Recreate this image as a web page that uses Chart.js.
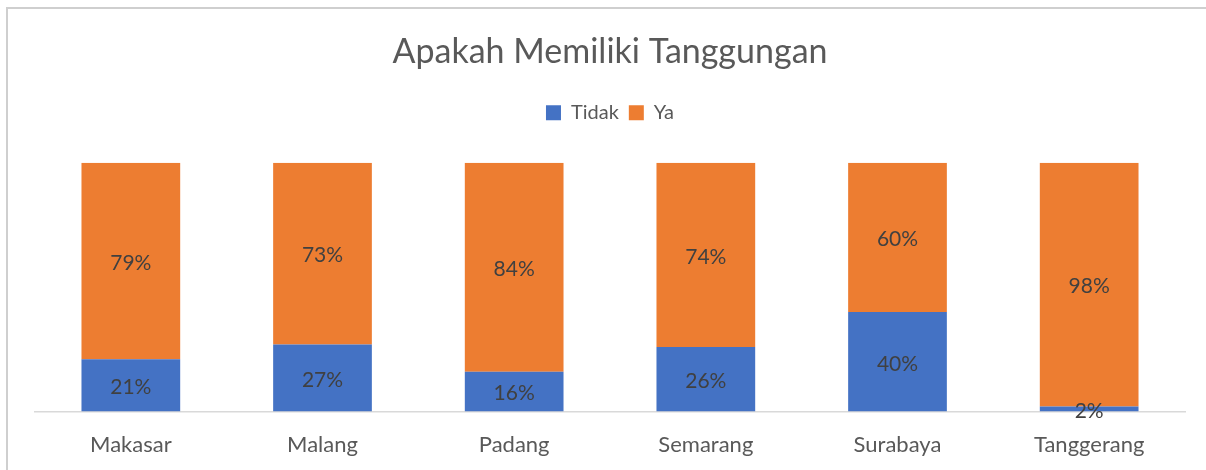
<!DOCTYPE html>
<html>
<head>
<meta charset="utf-8">
<script src="https://cdn.jsdelivr.net/npm/chart.js@4/dist/chart.umd.min.js"></script>
<style>
  html, body { margin: 0; padding: 0; background: #fff; }
  #wrap { position: relative; width: 1206px; height: 470px; }
  #frame { position: absolute; left: 6px; top: 7px; right: -10px; bottom: -10px;
           border-left: 2px solid #cfcfcf; border-top: 2px solid #cfcfcf; }
  canvas { position: absolute; left: 0; top: 0; }
</style>
</head>
<body>
<div id="wrap">
  <div id="frame"></div>
  <canvas id="barChart" width="1206" height="470"></canvas>
</div>
<script>
// data (percent of respondents)
var cities = ['Makasar', 'Malang', 'Padang', 'Semarang', 'Surabaya', 'Tanggerang'];
var tidak = [21, 27, 16, 26, 40, 2];
var ya = [79, 73, 84, 74, 60, 98];

var fontName = 'Lato, "Open Sans", sans-serif';

// draws the percent value in the middle of each bar segment
var segmentLabels = {
    id: 'segmentLabels',
    afterDatasetsDraw: function (chart) {
        var ctx = chart.ctx;
        ctx.save();
        ctx.font = '21px ' + fontName;
        ctx.fillStyle = '#404040';
        ctx.textAlign = 'center';
        ctx.textBaseline = 'middle';
        chart.data.datasets.forEach(function (ds, i) {
            chart.getDatasetMeta(i).data.forEach(function (bar, j) {
                var mid = (bar.y + bar.base) / 2 + 2;
                ctx.fillText(ds.data[j] + '%', bar.x, mid);
            });
        });
        ctx.restore();
    }
};

// extra space under the legend
var legendGap = {
    id: 'legendGap',
    beforeInit: function (chart) {
        var fit = chart.legend.fit;
        chart.legend.fit = function () {
            fit.bind(chart.legend)();
            this.height += 30;
        };
    }
};

var ctx = document.getElementById('barChart').getContext('2d');
var barChart = new Chart(ctx, {
    type: 'bar',
    data: {
        labels: cities,
        datasets: [
            { label: 'Tidak', data: tidak, backgroundColor: '#4472C4' },
            { label: 'Ya', data: ya, backgroundColor: '#ED7D31' }
        ]
    },
    options: {
        responsive: false,
        animation: false,
        layout: { padding: { top: 22, left: 35, right: 21, bottom: 0 } },
        datasets: { bar: { categoryPercentage: 1, barPercentage: 0.515 } },
        scales: {
            x: {
                stacked: true,
                grid: { display: false },
                border: { color: '#d9d9d9', width: 1.5 },
                ticks: { color: '#595959', padding: 12, font: { family: fontName, size: 22 } }
            },
            y: { stacked: true, display: false, min: 0, max: 100 }
        },
        plugins: {
            title: {
                display: true,
                text: 'Apakah Memiliki Tanggungan',
                color: '#595959',
                padding: { top: 10, bottom: 20 },
                font: { family: fontName, size: 34, weight: 'normal' }
            },
            legend: {
                labels: {
                    color: '#595959',
                    boxWidth: 15,
                    boxHeight: 15,
                    padding: 10,
                    font: { family: fontName, size: 20 }
                }
            },
            tooltip: { enabled: false }
        }
    },
    plugins: [segmentLabels, legendGap]
});
</script>
</body>
</html>
